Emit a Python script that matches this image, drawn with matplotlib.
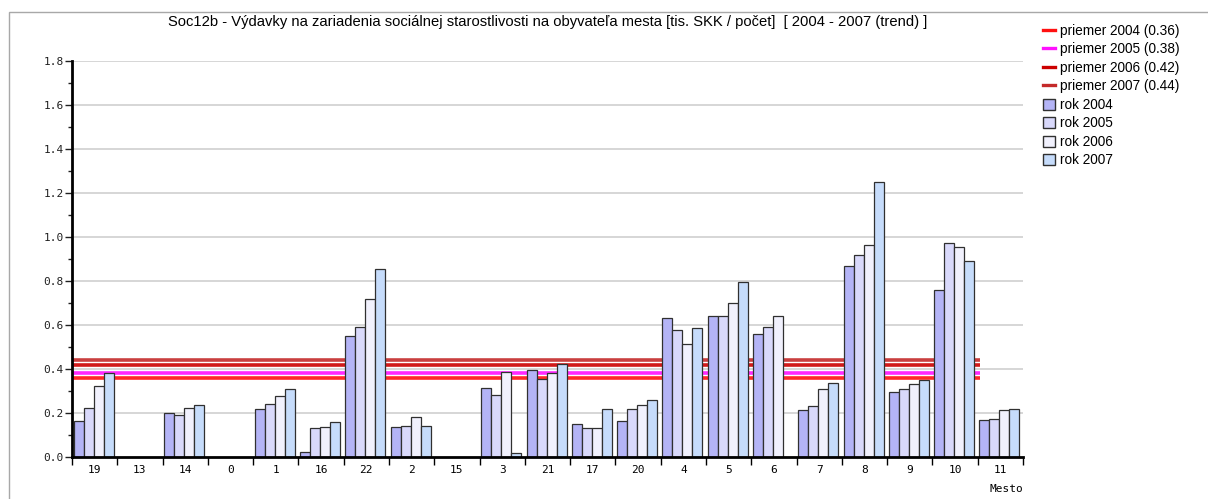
import numpy as np
import matplotlib
matplotlib.use("Agg")
import matplotlib.pyplot as plt
from matplotlib.lines import Line2D
from matplotlib.patches import Patch, Rectangle

categories = ["19", "13", "14", "0", "1", "16", "22", "2", "15", "3", "21",
              "17", "20", "4", "5", "6", "7", "8", "9", "10", "11"]
nan = np.nan
rok2004 = [0.164, nan, 0.201, nan, 0.220, 0.024, 0.551, 0.135, nan, 0.315, 0.394,
           0.149, 0.164, 0.630, 0.641, 0.558, 0.214, 0.868, 0.294, 0.760, 0.170]
rok2005 = [0.224, nan, 0.191, nan, 0.242, 0.130, 0.591, 0.141, nan, 0.282, 0.355,
           0.134, 0.220, 0.579, 0.641, 0.591, 0.232, 0.917, 0.310, 0.974, 0.174]
rok2006 = [0.321, nan, 0.224, nan, 0.276, 0.135, 0.720, 0.180, nan, 0.388, 0.382,
           0.134, 0.236, 0.512, 0.698, 0.641, 0.310, 0.962, 0.333, 0.956, 0.214]
rok2007 = [0.383, nan, 0.236, nan, 0.310, 0.158, 0.855, 0.141, nan, 0.018, 0.421,
           0.220, 0.259, 0.585, 0.794, nan, 0.338, 1.249, 0.349, 0.891, 0.220]
series_labels = ["rok 2004", "rok 2005", "rok 2006", "rok 2007"]
averages = [0.36, 0.38, 0.42, 0.44]
average_labels = ["priemer 2004 (0.36)", "priemer 2005 (0.38)",
                  "priemer 2006 (0.42)", "priemer 2007 (0.44)"]
title = "Soc12b - Výdavky na zariadenia sociálnej starostlivosti na obyvateľa mesta [tis. SKK / počet]  [ 2004 - 2007 (trend) ]"
x_label = "Mesto"

bar_colors = ["#b4b4f6", "#d9d9fb", "#f1f1fd", "#c6dcfb"]
avg_colors = ["#ff1010", "#ff10ff", "#cc0000", "#c42a2a"]

W, H = 1208, 499
fig = plt.figure(figsize=(W / 100, H / 100), dpi=100)
fig.patch.set_facecolor("white")

# outer frame
fig.add_artist(Rectangle((9 / W, -0.01), 1.2, (H - 12) / H + 0.01,
                         transform=fig.transFigure, fill=False,
                         edgecolor="#a8a8a8", lw=1.0))

left, right, bottom, top = 72, 1023, 457, 61
ax = fig.add_axes([left / W, (H - bottom) / H, (right - left) / W, (bottom - top) / H])

n = len(categories)
x = np.arange(n)
bw = 0.221
data = [rok2004, rok2005, rok2006, rok2007]

ax.set_xlim(-0.5, n - 0.5)
ax.set_ylim(0, 1.8)

# grid
for g in np.arange(0.2, 1.81, 0.2):
    ax.axhline(g, color="#d0d0d0", lw=1.2, zorder=0)

for k, (vals, col, lab) in enumerate(zip(data, bar_colors, series_labels)):
    ax.bar(x + (k - 1.5) * bw - 0.02, vals, width=bw, color=col,
           edgecolor="#303030", linewidth=0.9, zorder=2, label=lab)

# average lines
for val, col in zip(averages, avg_colors):
    ax.hlines(val, -0.5, 19.55, colors=col, lw=2.6, zorder=1.5, alpha=0.9)

for s in ["top", "right"]:
    ax.spines[s].set_visible(False)
ax.spines["left"].set_linewidth(2.0)
ax.spines["bottom"].set_linewidth(2.0)

ax.set_yticks(np.arange(0, 1.81, 0.2))
ax.set_yticklabels([f"{v:.1f}" for v in np.arange(0, 1.81, 0.2)],
                   fontfamily="DejaVu Sans Mono", fontsize=8)
ax.set_yticks(np.arange(0.1, 1.8, 0.2), minor=True)
ax.tick_params(axis="y", which="major", length=5, width=1, pad=1, colors="#202020")
ax.tick_params(axis="y", which="minor", length=3, width=1, colors="#202020")

ax.set_xticks(np.arange(-0.5, n, 1.0))
ax.set_xticklabels([])
ax.tick_params(axis="x", which="major", length=6, width=1, direction="out")
for i, c in enumerate(categories):
    ax.text(i, -0.06, c, ha="center", va="center", fontsize=8,
            fontfamily="DejaVu Sans Mono", transform=ax.transData, clip_on=False)
ax.text(1.0, -32 / (bottom - top), x_label, ha="right", va="center", fontsize=8,
        fontfamily="DejaVu Sans Mono", transform=ax.transAxes)

fig.text((left + right) / 2 / W, 1 - 22 / H, title, ha="center", va="center",
         fontsize=10.6, fontfamily="Liberation Sans")

handles = [Line2D([0], [0], color=c, lw=2.4) for c in avg_colors]
handles += [Patch(facecolor=c, edgecolor="#303030", lw=1.0) for c in bar_colors]
labels = average_labels + series_labels
leg = fig.legend(handles, labels, loc="upper left", bbox_to_anchor=(1043 / W, 1 - 24 / H),
                 frameon=False, prop={"family": "Liberation Sans", "size": 9.8},
                 handlelength=0.9, handleheight=0.9, handletextpad=0.35,
                 labelspacing=0.33, borderpad=0, borderaxespad=0)

fig.savefig("out.png", dpi=100, facecolor="white")
